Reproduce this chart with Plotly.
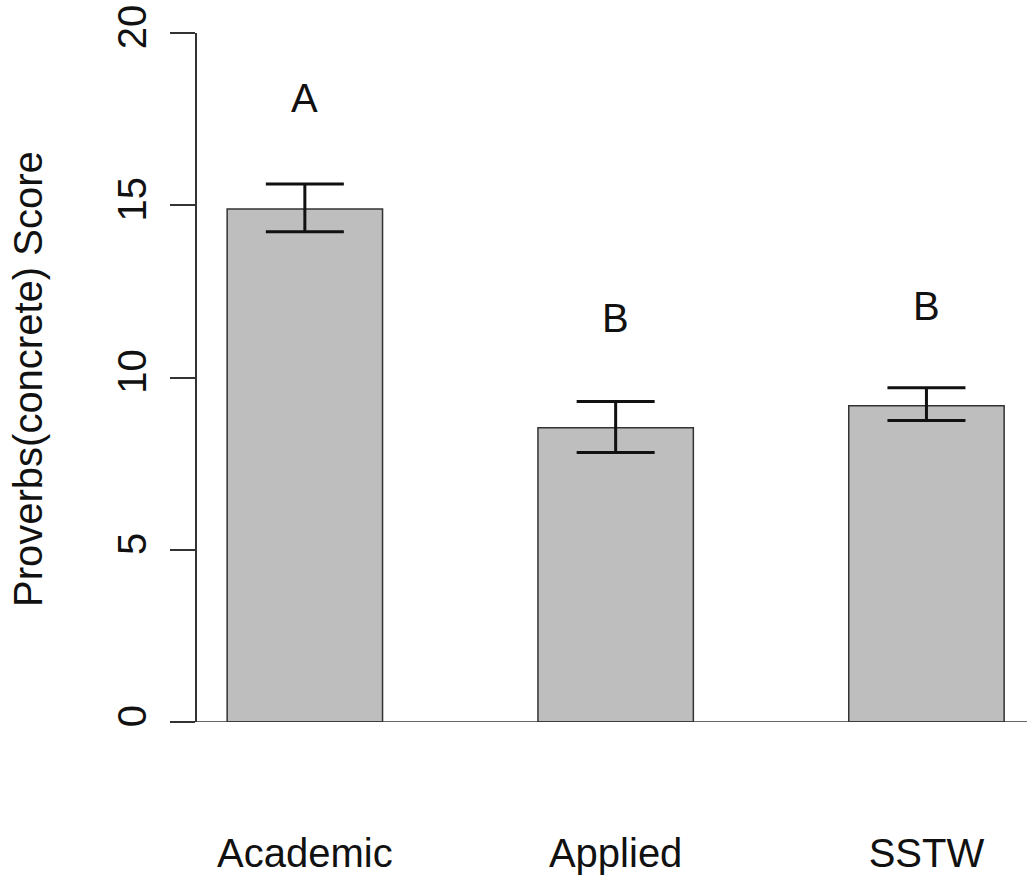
import plotly.graph_objects as go

categories = ["Academic", "Applied", "SSTW"]
means = [14.89, 8.54, 9.18]
err_plus = [0.73, 0.76, 0.52]
err_minus = [0.66, 0.72, 0.43]
letters = ["A", "B", "B"]
letter_y = [18.1, 11.72, 12.08]
y_ticks = [0, 5, 10, 15, 20]

FONT = "Liberation Sans, Arial, sans-serif"
FS = 40

fig = go.Figure()
fig.add_trace(go.Bar(
    x=categories, y=means, width=0.5,
    marker=dict(color="#bebebe", line=dict(color="#333333", width=1.5)),
    error_y=dict(type="data", symmetric=False, array=err_plus, arrayminus=err_minus,
                 color="#111111", thickness=3, width=39),
    showlegend=False, hoverinfo="skip",
))

for c, t, yy in zip(categories, letters, letter_y):
    fig.add_annotation(x=c, y=yy, xref="x", yref="y", text=t, showarrow=False,
                       font=dict(family=FONT, size=FS, color="#111111"),
                       xanchor="center", yanchor="middle")

W, H = 1027, 879
L, T, B = 197, 33, 157
plot_w = W - L
PX_PER_CAT = 310.8

fig.add_annotation(x=(28 - L) / plot_w, y=(H - B - 379) / (H - B - T), xref="paper", yref="paper",
                   text="Proverbs(concrete) Score", textangle=-90, showarrow=False,
                   font=dict(family=FONT, size=FS, color="#111111"),
                   xanchor="center", yanchor="middle")

# baseline extending left past the axis
fig.add_shape(type="line", xref="paper", yref="y", x0=(170 - L) / plot_w, x1=1, y0=0, y1=0,
              line=dict(color="#333333", width=1.5))

fig.update_layout(
    width=W, height=H,
    margin=dict(l=L, r=0, t=T, b=B, pad=0, autoexpand=False),
    paper_bgcolor="white", plot_bgcolor="white",
    font=dict(family=FONT, size=FS, color="#111111"),
    bargap=0.5,
)
fig.update_xaxes(type="category", range=[-0.347, -0.347 + plot_w / PX_PER_CAT],
                 showline=False, showgrid=False, zeroline=False, ticks="",
                 tickfont=dict(family=FONT, size=FS, color="#111111"),
                 ticklabelstandoff=104, automargin=False)
fig.update_yaxes(range=[0, 20], tickvals=y_ticks, ticktext=[str(v) for v in y_ticks],
                 tickangle=-90, showline=True, linecolor="#333333", linewidth=1.5,
                 ticks="outside", ticklen=25, tickwidth=1.5, tickcolor="#333333",
                 showgrid=False, zeroline=False,
                 tickfont=dict(family=FONT, size=FS, color="#111111"),
                 ticklabelstandoff=8, automargin=False)

fig.write_html("out.html", config={"displayModeBar": False},
               post_script="document.body.style.margin='0px';document.body.style.overflow='hidden';")
